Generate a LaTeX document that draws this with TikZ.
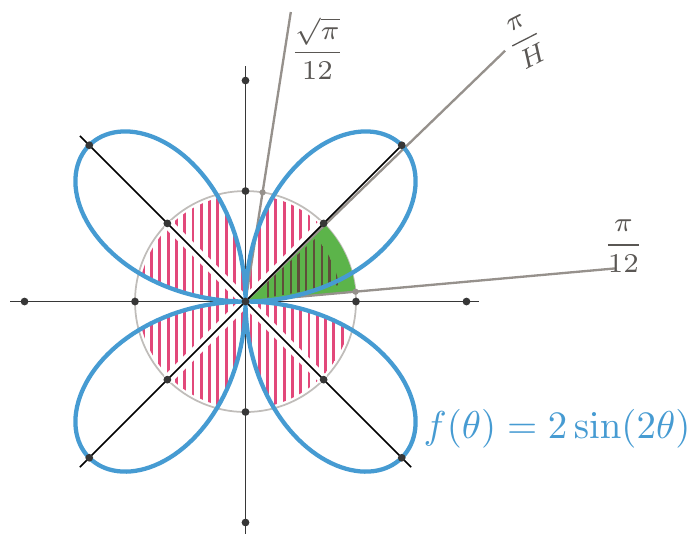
\documentclass[tikz,border=0pt]{standalone}
\usepackage{amsmath}
\usetikzlibrary{positioning, calc}
\definecolor{petalblue}{RGB}{70,155,210}
\definecolor{hatchpink}{RGB}{226,72,122}
\definecolor{leafgreen}{RGB}{92,180,74}
\definecolor{leafdark}{RGB}{95,78,58}
\definecolor{pencil}{RGB}{150,145,140}
\definecolor{inkdark}{RGB}{55,55,55}

\begin{document}
\begin{tikzpicture}[
  axis/.style={inkdark, line width=0.45pt},
  diag/.style={black, line width=0.4pt},
  ray/.style={pencil, line width=0.6pt},
  unitcirc/.style={pencil!60, line width=0.45pt},
  petal/.style={petalblue, line width=1.1pt},
  hatch/.style={hatchpink, line width=0.75pt, line cap=round},
  darkhatch/.style={leafdark, line width=0.55pt},
  dot/.style={circle, fill=inkdark, inner sep=0pt, minimum size=2pt},
  softdot/.style={circle, fill=pencil, inner sep=0pt, minimum size=1.6pt},
  lbl/.style={pencil!60!black, font=\scriptsize, inner sep=1pt}
]
  \useasboundingbox (-2.222,-2.104) rectangle (4.014,2.729);
  \coordinate (O) at (0,0);

  % rays and their ends
  \coordinate (r12) at (3.35,0.30);
  \coordinate (r4) at (2.35,2.27);
  \coordinate (r512) at (0.41,2.62);

  % unit circle
  \draw[unitcirc] (O) circle[radius=1];

  % pink hatching: petals inside the unit circle
  \begin{scope}
    \clip plot[variable=\t, domain=0:360, samples=361] (\t:{min(0.97,1.97*abs(sin(2*\t)))}) -- cycle;
    \foreach \hx in {-1.00,-0.925,...,1.00}
      \draw[hatch] (\hx,-1) -- (\hx,1);
  \end{scope}
  \draw[white, line width=2.6pt] (135:1) -- (-45:1) (225:1) -- (45:1);

  % green sector
  \fill[leafgreen] (O) -- (5.1:1) arc[start angle=5.1, end angle=45, radius=1] -- cycle;
  \begin{scope}
    \clip (O) -- (10:0.86) arc[start angle=10, end angle=42, radius=0.86] -- cycle;
    \foreach \hx in {0.20,0.27,...,0.85}
      \draw[darkhatch] (\hx,0) -- (\hx,0.8);
  \end{scope}

  % rays
  \draw[ray] (O) -- (r12);
  \draw[ray] (O) -- (r4);
  \draw[ray] (O) -- (r512);

  % diagonals and axes
  \draw[diag] (135:2.12) -- (-45:2.12);
  \draw[diag] (225:2.12) -- (45:2);
  \draw[axis] (-2.13,0) -- (2.11,0);
  \draw[axis] (0,2.13) -- (0,-2.11);

  % the curve
  \draw[petal] plot[variable=\t, domain=0:360, samples=361] (\t:{2*abs(sin(2*\t))}) -- cycle;

  % dots
  \node[dot] at (O) {};
  \foreach \a in {0,45,...,315} {
    \node[dot] at (\a:1) {};
    \node[dot] at (\a:2) {};
  }
  \node[softdot] at (81.1:1) {};
  \node[softdot] at (5.1:1) {};

  % labels
  \node[lbl] (l12) at (3.42,0.50) {$\dfrac{\pi}{12}$};
  \node[lbl] (l512) at (0.65,2.29) {$\dfrac{\sqrt{\pi}}{12}$};
  \node[lbl, rotate=27] (l4) at (2.53,2.36) {$\dfrac{\pi}{H}$};
  \node[petalblue, font=\normalsize] (fcurve) at (2.82,-1.15) {$f(\theta)=2\sin(2\theta)$};
\end{tikzpicture}
\end{document}
